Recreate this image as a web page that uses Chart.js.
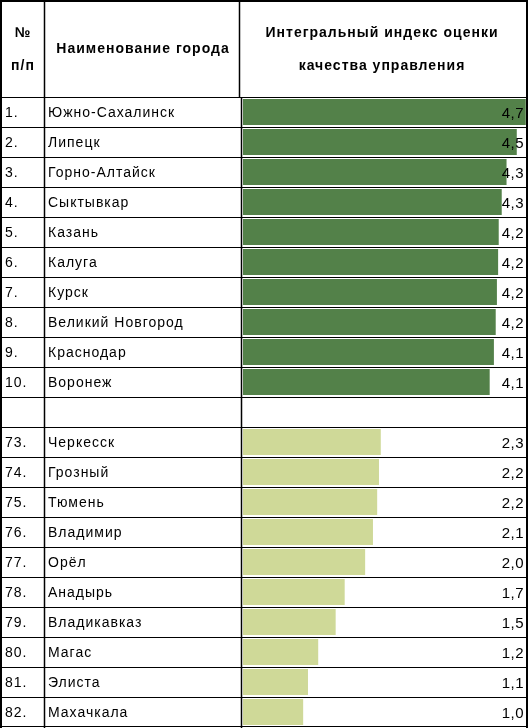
<!DOCTYPE html>
<html>
<head>
<meta charset="utf-8">
<script src="https://cdn.jsdelivr.net/npm/chart.js@4/dist/chart.umd.min.js"></script>
<style>
  body { margin: 0; background: #fff; }
  canvas { display: block; }
</style>
</head>
<body>
<canvas id="rating-chart" width="528" height="728"></canvas>
<script>
const ranks = ['1.', '2.', '3.', '4.', '5.', '6.', '7.', '8.', '9.', '10.', '',
  '73.', '74.', '75.', '76.', '77.', '78.', '79.', '80.', '81.', '82.'];
const cities = ['Южно-Сахалинск', 'Липецк', 'Горно-Алтайск', 'Сыктывкар', 'Казань', 'Калуга',
  'Курск', 'Великий Новгород', 'Краснодар', 'Воронеж', '',
  'Черкесск', 'Грозный', 'Тюмень', 'Владимир', 'Орёл', 'Анадырь', 'Владикавказ',
  'Магас', 'Элиста', 'Махачкала'];
// bar lengths as drawn in the picture
const values = [4.70, 4.55, 4.38, 4.30, 4.25, 4.24, 4.22, 4.20, 4.17, 4.10, null,
  2.29, 2.26, 2.23, 2.16, 2.03, 1.69, 1.54, 1.25, 1.08, 1.00];
// value text as printed
const valueLabels = ['4,7', '4,5', '4,3', '4,3', '4,2', '4,2', '4,2', '4,2', '4,1', '4,1', '',
  '2,3', '2,2', '2,2', '2,1', '2,0', '1,7', '1,5', '1,2', '1,1', '1,0'];
const headerNum = ['№', 'п/п'];
const headerCity = 'Наименование города';
const headerIndex = ['Интегральный индекс оценки', 'качества управления'];

const topColor = '#538149';
const bottomColor = '#cfd998';
const font = 'Arial, "Liberation Sans", sans-serif';

const tablePlugin = {
  id: 'table',
  afterDraw(chart) {
    const ctx = chart.ctx;
    const y = chart.scales.y;
    const area = chart.chartArea;
    const half = 15;
    ctx.save();
    ctx.strokeStyle = '#000';

    // horizontal lines
    ctx.lineWidth = 1;
    for (let i = 0; i < cities.length; i++) {
      const py = Math.round(y.getPixelForValue(i) - half) + 0.5;
      ctx.beginPath(); ctx.moveTo(1, py); ctx.lineTo(527, py); ctx.stroke();
    }
    const last = Math.round(y.getPixelForValue(cities.length - 1) + half) - 0.5;
    ctx.beginPath(); ctx.moveTo(1, last); ctx.lineTo(527, last); ctx.stroke();

    // vertical lines
    ctx.lineWidth = 2;
    ctx.beginPath();
    ctx.moveTo(1, 0); ctx.lineTo(1, 728);
    ctx.moveTo(527, 0); ctx.lineTo(527, 728);
    ctx.moveTo(0, 1); ctx.lineTo(528, 1);
    ctx.stroke();
    ctx.lineWidth = 1.5;
    ctx.beginPath();
    ctx.moveTo(44.5, 0); ctx.lineTo(44.5, 728);
    ctx.moveTo(239.5, 0); ctx.lineTo(239.5, area.top);
    ctx.moveTo(241.5, area.top); ctx.lineTo(241.5, 728);
    ctx.stroke();

    // header
    ctx.fillStyle = '#000';
    ctx.textBaseline = 'middle';
    ctx.letterSpacing = '1px';
    ctx.font = 'bold 14px ' + font;
    ctx.textAlign = 'left';
    const centered = (t, cx, cy) => ctx.fillText(t, cx - ctx.measureText(t).width / 2, cy);
    centered(headerNum[0], 23, 33);
    centered(headerNum[1], 23, 66);
    centered(headerCity, 143, 49);
    centered(headerIndex[0], 382, 33);
    centered(headerIndex[1], 382, 66);

    // rows
    ctx.font = '14px ' + font;
    cities.forEach((c, i) => {
      const py = y.getPixelForValue(i) + 1;
      ctx.fillText(ranks[i], 5, py);
      ctx.fillText(c, 48, py);
    });
    ctx.letterSpacing = '0.5px';
    ctx.font = '15px ' + font;
    valueLabels.forEach((t, i) => {
      ctx.fillText(t, 524 - ctx.measureText(t).width, y.getPixelForValue(i) + 2);
    });
    ctx.restore();
  }
};

let chart = new Chart(document.getElementById('rating-chart'), {
  type: 'bar',
  data: {
    labels: cities.map((c, i) => c || ' ' + i),
    datasets: [{
      data: values,
      backgroundColor: ranks.map(r => parseInt(r) <= 10 ? topColor : bottomColor),
      barPercentage: 0.867,
      categoryPercentage: 1
    }]
  },
  options: {
    indexAxis: 'y',
    responsive: false,
    animation: false,
    layout: { padding: { left: 243, right: 1, top: 97, bottom: 1 } },
    scales: {
      x: { display: false, min: 0, max: 4.72 },
      y: { display: false }
    },
    plugins: {
      legend: { display: false },
      tooltip: { enabled: false }
    }
  },
  plugins: [tablePlugin]
});
</script>
</body>
</html>
